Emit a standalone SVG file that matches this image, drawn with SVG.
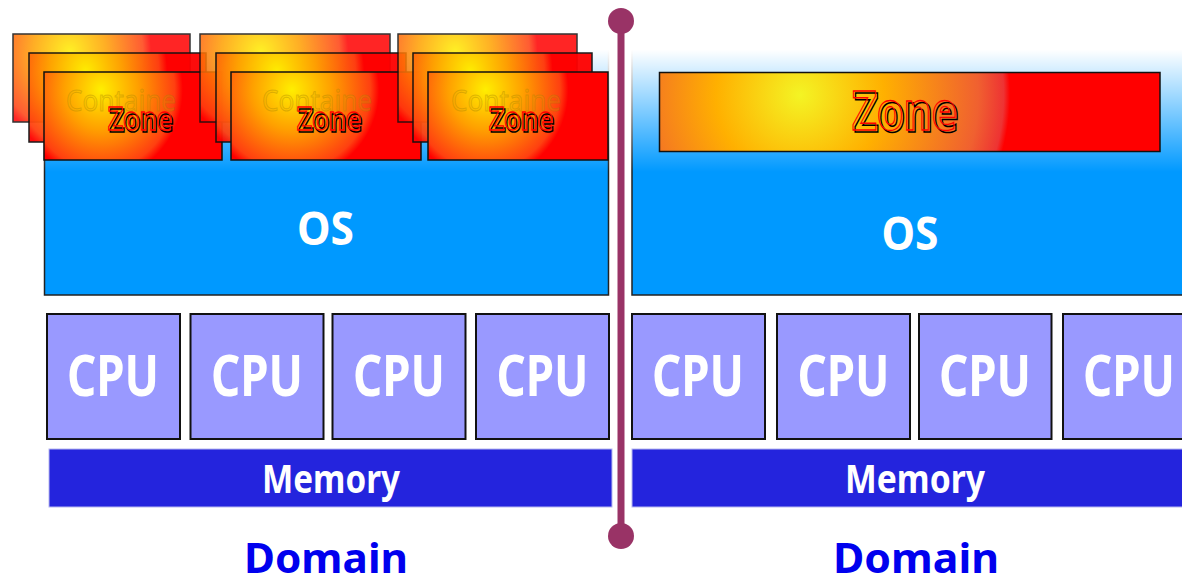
<svg xmlns="http://www.w3.org/2000/svg" width="1182" height="575" viewBox="0 0 1182 575">
  <defs>
    <style>
      .lbl { font-family: "Noto Sans", "Open Sans", sans-serif; font-weight: bold; text-anchor: middle; }
      .os { fill: #0099ff; stroke: #222; stroke-width: 1.5; }
      .os-t { fill: #fff; font-size: 46px; }
      .cpu { fill: #9999ff; stroke: #111; stroke-width: 2; }
      .cpu-t { fill: #fff; font-size: 57px; }
      .mem { fill: #2424dd; stroke: #b8b8f0; stroke-width: 1; }
      .mem-t { fill: #fff; font-size: 39px; }
      .dom-t { fill: #0000ee; font-size: 42px; }
      .card { fill: url(#cardFill); stroke: #111; stroke-width: 1.5; }
      .back { opacity: 0.85; }
      .mid { opacity: 0.95; }
      .ghost { fill: #e0b000; fill-opacity: 0.18; stroke: #a08000; stroke-opacity: 0.35; stroke-width: 1; font-size: 29px; font-weight: normal; }
      .zone-k { fill: none; stroke: #000; stroke-width: 1.6; }
      .zone-r { fill: none; stroke: #ff0000; stroke-width: 1.3; }
      .zs { font-size: 33px; }
      .zl { font-size: 53px; }
    </style>
    <radialGradient id="cardFill" cx="0.32" cy="0.2" r="0.46" gradientTransform="translate(0.32 0.2) scale(1 2.2) translate(-0.32 -0.2)">
      <stop offset="0" stop-color="#ffee00"/>
      <stop offset="0.45" stop-color="#ffa000"/>
      <stop offset="0.9" stop-color="#ff4010"/>
      <stop offset="1" stop-color="#ff0000"/>
    </radialGradient>
    <radialGradient id="bigZoneFill" gradientUnits="userSpaceOnUse" cx="800" cy="95" r="210">
      <stop offset="0" stop-color="#f4f424"/>
      <stop offset="0.4" stop-color="#ffb000"/>
      <stop offset="0.85" stop-color="#f06030"/>
      <stop offset="0.97" stop-color="#ee3333"/>
      <stop offset="1" stop-color="#ff0000"/>
    </radialGradient>
    <linearGradient id="haze" x1="0" y1="0" x2="0" y2="1">
      <stop offset="0" stop-color="#fff" stop-opacity="1"/>
      <stop offset="0.1" stop-color="#fff" stop-opacity="1"/>
      <stop offset="1" stop-color="#fff" stop-opacity="0"/>
    </linearGradient>
  </defs>

  <rect width="1182" height="575" fill="#fff"/>

  <!-- operating system layers, fading to white towards the top -->
  <g id="os-left">
    <rect class="os" x="44.5" y="40" width="564" height="255"/>
    <rect x="40" y="36" width="572" height="136" fill="url(#haze)"/>
    <text class="lbl os-t" x="325.5" y="245" textLength="57" lengthAdjust="spacingAndGlyphs">OS</text>
  </g>
  <g id="os-right">
    <rect class="os" x="632" y="40" width="560" height="255"/>
    <rect x="628" y="36" width="560" height="136" fill="url(#haze)"/>
    <text class="lbl os-t" x="910" y="250" textLength="57" lengthAdjust="spacingAndGlyphs">OS</text>
  </g>

  <!-- stacked zone cards, left domain -->
  <g id="zone-stack-1">
    <rect class="card back" x="13" y="34" width="177" height="88"/>
    <rect class="card mid" x="29" y="53" width="177" height="89"/>
    <rect class="card" x="44" y="72" width="178" height="88"/>
    <text class="lbl ghost" x="121" y="111" textLength="110" lengthAdjust="spacingAndGlyphs">Containe</text>
    <text class="lbl zs zone-k" x="141.5" y="131.5" textLength="64" lengthAdjust="spacingAndGlyphs">Zone</text>
    <text class="lbl zs zone-r" x="140" y="130" textLength="64" lengthAdjust="spacingAndGlyphs">Zone</text>
  </g>
  <g id="zone-stack-2">
    <rect class="card back" x="200" y="34" width="190" height="88"/>
    <rect class="card mid" x="216" y="53" width="190" height="89"/>
    <rect class="card" x="231" y="72" width="190" height="88"/>
    <text class="lbl ghost" x="317" y="111" textLength="110" lengthAdjust="spacingAndGlyphs">Containe</text>
    <text class="lbl zs zone-k" x="330.5" y="131.5" textLength="64" lengthAdjust="spacingAndGlyphs">Zone</text>
    <text class="lbl zs zone-r" x="329" y="130" textLength="64" lengthAdjust="spacingAndGlyphs">Zone</text>
  </g>
  <g id="zone-stack-3">
    <rect class="card back" x="398" y="34" width="179" height="88"/>
    <rect class="card mid" x="413" y="53" width="179" height="89"/>
    <rect class="card" x="428" y="72" width="180" height="88"/>
    <text class="lbl ghost" x="506" y="111" textLength="110" lengthAdjust="spacingAndGlyphs">Containe</text>
    <text class="lbl zs zone-k" x="522.5" y="131.5" textLength="64" lengthAdjust="spacingAndGlyphs">Zone</text>
    <text class="lbl zs zone-r" x="521" y="130" textLength="64" lengthAdjust="spacingAndGlyphs">Zone</text>
  </g>

  <!-- single zone, right domain -->
  <g id="zone-right">
    <rect x="659.5" y="72.5" width="500.5" height="79" fill="url(#bigZoneFill)" stroke="#111" stroke-width="1.5"/>
    <text class="lbl zl zone-k" x="906.5" y="132" textLength="105" lengthAdjust="spacingAndGlyphs">Zone</text>
    <text class="lbl zl zone-r" x="904.5" y="130" textLength="105" lengthAdjust="spacingAndGlyphs">Zone</text>
  </g>

  <!-- processors -->
  <g id="cpu-l1"><rect class="cpu" x="47" y="314" width="133" height="125"/><text class="lbl cpu-t" x="113" y="396" textLength="92" lengthAdjust="spacingAndGlyphs">CPU</text></g>
  <g id="cpu-l2"><rect class="cpu" x="190.5" y="314" width="133" height="125"/><text class="lbl cpu-t" x="257" y="396" textLength="92" lengthAdjust="spacingAndGlyphs">CPU</text></g>
  <g id="cpu-l3"><rect class="cpu" x="332.5" y="314" width="133" height="125"/><text class="lbl cpu-t" x="399" y="396" textLength="92" lengthAdjust="spacingAndGlyphs">CPU</text></g>
  <g id="cpu-l4"><rect class="cpu" x="476" y="314" width="133" height="125"/><text class="lbl cpu-t" x="542.5" y="396" textLength="92" lengthAdjust="spacingAndGlyphs">CPU</text></g>
  <g id="cpu-r1"><rect class="cpu" x="632" y="314" width="133" height="125"/><text class="lbl cpu-t" x="698" y="396" textLength="92" lengthAdjust="spacingAndGlyphs">CPU</text></g>
  <g id="cpu-r2"><rect class="cpu" x="777" y="314" width="133" height="125"/><text class="lbl cpu-t" x="843.5" y="396" textLength="92" lengthAdjust="spacingAndGlyphs">CPU</text></g>
  <g id="cpu-r3"><rect class="cpu" x="919" y="314" width="132.5" height="125"/><text class="lbl cpu-t" x="985" y="396" textLength="92" lengthAdjust="spacingAndGlyphs">CPU</text></g>
  <g id="cpu-r4"><rect class="cpu" x="1063" y="314" width="133" height="125"/><text class="lbl cpu-t" x="1129" y="396" textLength="92" lengthAdjust="spacingAndGlyphs">CPU</text></g>

  <!-- memory -->
  <g id="mem-left">
    <rect class="mem" x="49" y="449" width="563" height="58"/>
    <text class="lbl mem-t" x="331" y="493" textLength="138" lengthAdjust="spacingAndGlyphs">Memory</text>
  </g>
  <g id="mem-right">
    <rect class="mem" x="632" y="449" width="560" height="58"/>
    <text class="lbl mem-t" x="915" y="493" textLength="140" lengthAdjust="spacingAndGlyphs">Memory</text>
  </g>

  <!-- domain captions -->
  <g id="domain-left"><text class="lbl dom-t" x="326" y="573" textLength="164" lengthAdjust="spacingAndGlyphs">Domain</text></g>
  <g id="domain-right"><text class="lbl dom-t" x="916" y="573" textLength="166" lengthAdjust="spacingAndGlyphs">Domain</text></g>

  <!-- divider between the two domains -->
  <g id="connectors">
    <line x1="621" y1="21" x2="621" y2="536" stroke="#993366" stroke-width="7"/>
    <circle cx="621" cy="21" r="13" fill="#993366"/>
    <circle cx="621" cy="536" r="13" fill="#993366"/>
  </g>
</svg>
